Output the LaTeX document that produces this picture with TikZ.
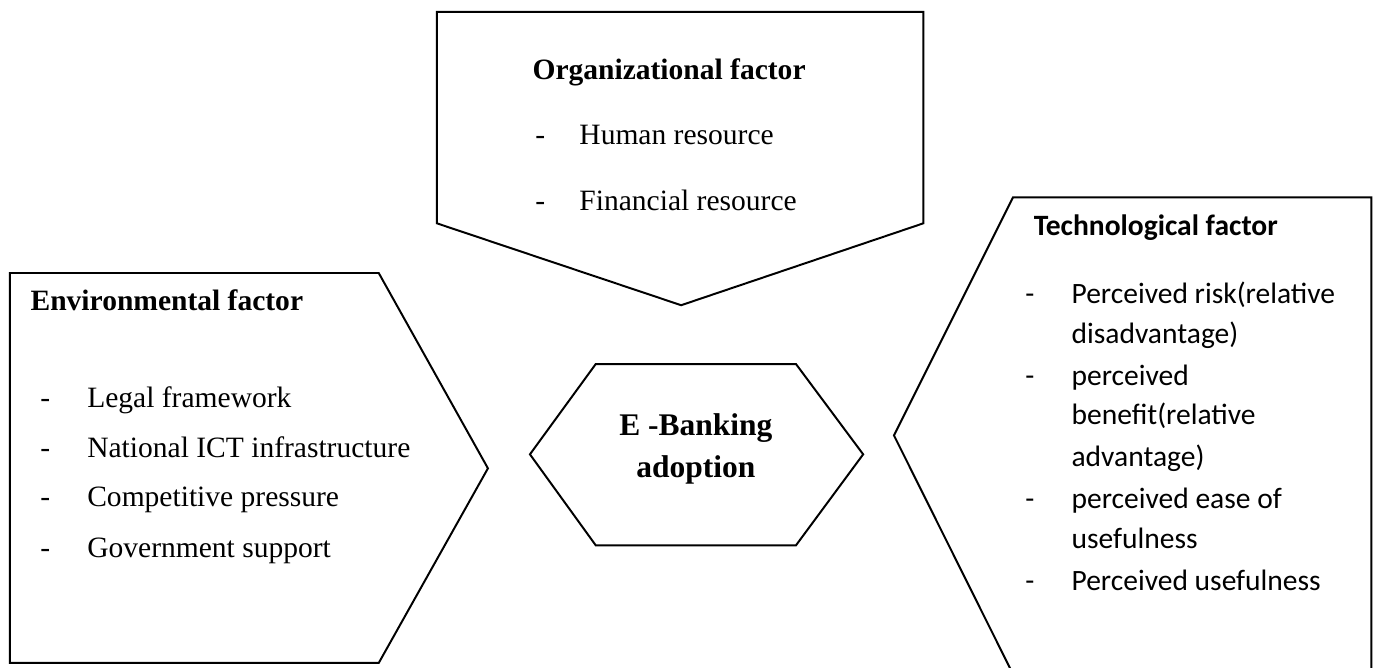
\documentclass[tikz,border=0pt]{standalone}
\usepackage{fontspec}
\setmainfont{Liberation Serif}
\newfontfamily\calibri{Carlito}

\tikzset{
  factor/.style={draw, line width=0.8pt, line join=miter},
  head/.style={anchor=base west, inner sep=0pt, font=\bfseries\fontsize{12}{14}\selectfont},
  item/.style={anchor=base west, inner sep=0pt, font=\fontsize{12}{14}\selectfont},
  techhead/.style={head, font=\calibri\bfseries\fontsize{12}{14}\selectfont},
  techitem/.style={item, font=\calibri\fontsize{12}{14}\selectfont}
}

\begin{document}
\begin{tikzpicture}
  \useasboundingbox (0,0) rectangle (19.67,9.53);
  \clip (0,0) rectangle (19.67,9.53);

  % Organizational factor, pointing down
  \draw[factor] (6.24,9.36) -- (13.19,9.36) -- (13.19,6.34) -- (9.73,5.17) -- (6.24,6.34) -- cycle;
  % Environmental factor, pointing right
  \draw[factor] (0.14,5.63) -- (5.41,5.63) -- (6.97,2.84) -- (5.41,0.06) -- (0.14,0.06) -- cycle;
  % Technological factor, pointing left (runs off the bottom)
  \draw[factor] (14.47,6.71) -- (19.59,6.71) -- (19.59,-0.20) -- (14.52,-0.20) -- (12.77,3.31) -- cycle;
  % E-Banking hexagon in the middle
  \draw[factor] (7.57,3.04) -- (8.51,4.33) -- (11.37,4.33) -- (12.33,3.04) -- (11.37,1.74) -- (8.51,1.74) -- cycle;

  % Organizational factor text
  \node[head] (orghead) at (7.60,8.39) {Organizational factor};
  \foreach \y/\t [count=\i] in {7.46/Human resource, 6.53/Financial resource} {
    \node[item] (orgdash\i) at (7.64,\y) {-};
    \node[item] (org\i) at (8.27,\y) {\t};
  }

  % Environmental factor text
  \node[head] (envhead) at (0.43,5.10) {Environmental factor};
  \foreach \y/\t [count=\i] in {3.71/Legal framework, 3.00/National ICT infrastructure,
      2.29/Competitive pressure, 1.57/Government support} {
    \node[item] (envdash\i) at (0.57,\y) {-};
    \node[item] (env\i) at (1.24,\y) {\t};
  }

  % Technological factor text
  \node[techhead] (techhead) at (14.76,6.17) {Technological factor};
  \foreach \y in {5.20,4.03,2.27,1.10}
    \node[techitem] at (14.64,\y) {-};
  \foreach \y/\t [count=\i] in {5.20/{Perceived risk(relative}, 4.63/{disadvantage)},
      4.03/{perceived}, 3.46/{benefit(relative}, 2.86/{advantage)},
      2.27/{perceived ease of}, 1.70/{usefulness}, 1.10/{Perceived usefulness}} {
    \node[techitem] (tech\i) at (15.30,\y) {\t};
  }

  % Centre label (base = last line)
  \node[font=\bfseries\fontsize{12.8}{17}\selectfont, align=center, anchor=base] (ebank) at (9.94,2.71)
    {E -Banking\\adoption};
\end{tikzpicture}
\end{document}
